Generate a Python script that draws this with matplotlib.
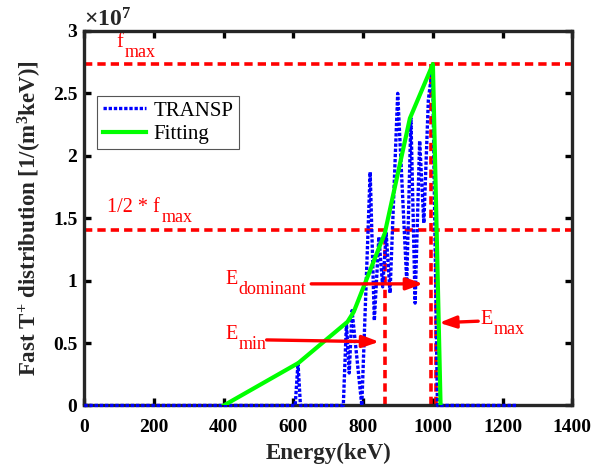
import matplotlib
matplotlib.use("Agg")
import matplotlib.pyplot as plt
from matplotlib.ticker import FuncFormatter

plt.rcParams['font.family'] = ['Liberation Serif', 'DejaVu Serif']
plt.rcParams['mathtext.fontset'] = 'custom'
plt.rcParams['mathtext.rm'] = 'Liberation Serif'
plt.rcParams['mathtext.it'] = 'Liberation Serif:italic'
plt.rcParams['mathtext.bf'] = 'Liberation Serif:bold'

# TRANSP distribution (keV, 1/(m^3 keV))
transp_e = [0, 600, 605, 613, 620, 743, 752, 760, 768, 796, 820, 832, 845,
            856, 866, 877, 899, 925, 937, 949, 962, 974, 987, 999, 1013, 1240]
transp_f = [0, 0, 0, 3.4e6, 0, 0, 6.6e6, 2.6e6, 7.6e6, 0, 18.7e6, 6.8e6,
            13.5e6, 9.5e6, 13.8e6, 9.0e6, 25.0e6, 9.9e6, 23.0e6, 8.2e6,
            21.2e6, 14.6e6, 24.5e6, 27.1e6, 0, 0]

# piecewise fitting
fit_e = [400, 614, 755, 773, 862, 934, 1000, 1022]
fit_f = [0, 3.4e6, 6.7e6, 7.5e6, 13.8e6, 23.0e6, 27.35e6, 0]

f_max = 2.735e7
f_half = 1.405e7
e_min = 862
e_dom = 994
e_max = 1009

x_ticks = [0, 200, 400, 600, 800, 1000, 1200, 1400]
y_ticks = [0, 0.5e7, 1e7, 1.5e7, 2e7, 2.5e7, 3e7]

fig = plt.figure(figsize=(6.11, 4.72), dpi=100)
ax = fig.add_axes([0.138, 0.141, 0.7987, 0.7934])

red_dash = (0, (2.3, 1.4))
ax.plot([0, 1400], [f_max, f_max], color='red', lw=2.6, linestyle=red_dash, zorder=2)
ax.plot([0, 1400], [f_half, f_half], color='red', lw=2.6, linestyle=red_dash, zorder=2)
ax.plot([e_min, e_min], [0, f_half], color='red', lw=2.6, linestyle=red_dash, zorder=2)
ax.plot([e_dom, e_dom], [0, f_max], color='red', lw=2.6, linestyle=red_dash, zorder=2)
ax.plot([e_max, e_max], [0, f_half], color='red', lw=2.6, linestyle=red_dash, zorder=2)

ax.plot(transp_e, transp_f, color='blue', lw=2.4, linestyle=(0, (1, 0.55)),
        label='TRANSP', zorder=4, clip_on=False)
ax.plot(fit_e, fit_f, color=(0, 1, 0), lw=3, label='Fitting', zorder=5)

arrow_kw = dict(arrowstyle='-|>,head_length=1.0,head_width=0.36', color='red',
                lw=2.4, mutation_scale=10, shrinkA=0, shrinkB=0)
ax.annotate('', xy=(972, 9.74e6), xytext=(651, 9.74e6), arrowprops=arrow_kw, zorder=6)
ax.annotate('', xy=(846, 5.1e6), xytext=(523, 5.25e6), arrowprops=arrow_kw, zorder=6)
ax.annotate('', xy=(1018, 6.62e6), xytext=(1130, 6.75e6), arrowprops=arrow_kw, zorder=6)

renderer = fig.canvas.get_renderer()


def sub_label(x, y, main, sub):
    # matlab-style subscript: nearly full size and dropped well below
    t = ax.text(x, y, main, color='red', fontsize=14.5, va='baseline', ha='left')
    w = t.get_window_extent(renderer).width * 72 / fig.dpi
    ax.annotate(sub, xy=(x, y), xytext=(w + 1, -7.2), textcoords='offset points',
                color='red', fontsize=13, va='baseline', ha='left')


sub_label(92, 2.87e7, 'f', 'max')
sub_label(66, 1.548e7, '1/2 * f', 'max')
sub_label(404, 9.69e6, 'E', 'dominant')
sub_label(404, 5.31e6, 'E', 'min')
sub_label(1135, 6.5e6, 'E', 'max')

ax.set_xlim(0, 1400)
ax.set_ylim(0, 3e7)
ax.set_xticks(x_ticks)
ax.set_yticks(y_ticks)
ax.yaxis.set_major_formatter(FuncFormatter(lambda v, p: '%g' % (v / 1e7)))
ax.tick_params(direction='in', length=5, width=2.4, top=True, right=True,
               labelsize=14)
ax.tick_params(axis='x', pad=10)
ax.tick_params(axis='y', pad=5)
for lbl in ax.get_xticklabels() + ax.get_yticklabels():
    lbl.set_fontweight('bold')
for sp in ax.spines.values():
    sp.set_linewidth(2.4)
    sp.set_color('#262626')
    sp.set_zorder(3)

ax.text(0.0, 1.012, r'×10$^{\mathbf{7}}$', transform=ax.transAxes, fontsize=17,
        fontweight='bold', va='baseline', ha='left', color='#262626')

ax.set_xlabel('Energy(keV)', fontsize=16.5, fontweight='bold', color='#262626')
ax.set_ylabel(r'Fast T$^{\mathbf{+}}$ distribution [1/(m$^{\mathbf{3}}$keV)]',
              fontsize=16.5, fontweight='bold', color='#262626')
ax.xaxis.set_label_coords(0.5, -0.10)
ax.yaxis.set_label_coords(-0.082, 0.5)

leg = ax.legend(loc='upper left', bbox_to_anchor=(0.0266, 0.827), fontsize=15,
                frameon=True, fancybox=False, framealpha=1, edgecolor='#555555',
                borderaxespad=0, borderpad=0.25, labelspacing=0.18,
                handlelength=2.1, handletextpad=0.35)
leg.get_frame().set_linewidth(0.8)

fig.savefig('out.png', dpi=100)
